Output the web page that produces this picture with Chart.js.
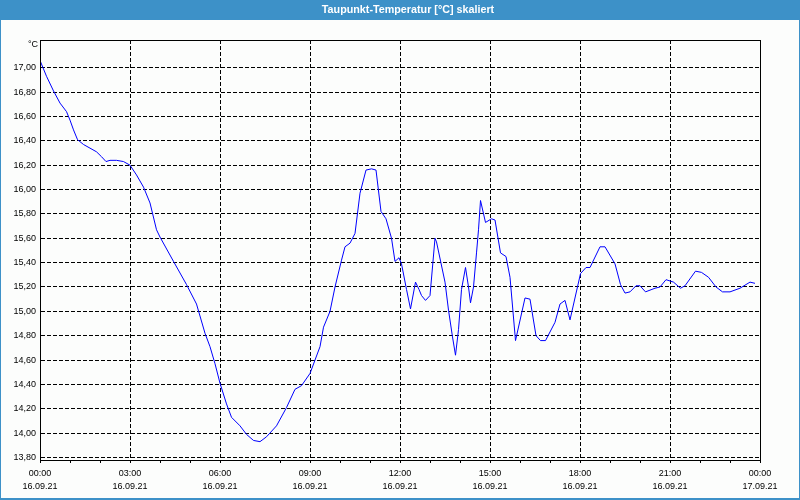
<!DOCTYPE html>
<html><head><meta charset="utf-8">
<script src="https://cdn.jsdelivr.net/npm/chart.js@4"></script>
<style>html,body{margin:0;padding:0;background:#fcfdfc;}#wrap{width:800px;height:500px;}</style>
</head><body><div id="wrap"><canvas id="c" width="800" height="500"></canvas></div>
<script>
const chartTitle = 'Taupunkt-Temperatur [°C] skaliert';
const unitLabel = '°C';

const times = [
 '00:00','00:13','00:27','00:40','00:53','01:00','01:07','01:15','01:27','01:40',
 '01:53','02:03','02:12','02:20','02:33','02:47','03:00','03:13','03:27','03:40',
 '03:53','04:00','04:27','04:53','05:13','05:30','05:40','05:50','06:00','06:13',
 '06:23','06:40','06:53','07:07','07:20','07:33','07:53','08:13','08:30','08:43',
 '09:00','09:20','09:27','09:40','09:50','10:03','10:10','10:20','10:30','10:40',
 '10:52','11:03','11:12','11:22','11:32','11:43','11:50','11:58','12:03','12:13',
 '12:21','12:31','12:38','12:43','12:51','13:00','13:10','13:13','13:30','13:37',
 '13:45','13:51','13:57','14:03','14:11','14:17','14:21','14:27','14:33','14:37',
 '14:41','14:51','15:03','15:10','15:21','15:32','15:40','15:51','16:10','16:20',
 '16:32','16:41','16:51','17:10','17:20','17:30','17:40','18:01','18:12','18:20',
 '18:40','18:50','19:10','19:21','19:30','19:40','19:52','20:00','20:11','20:30',
 '20:40','20:52','21:07','21:21','21:30','21:51','22:03','22:17','22:32','22:45',
 '23:00','23:20','23:40','23:50'
];
const dewPoint = [
 17.06,16.93,16.81,16.71,16.64,16.57,16.49,16.41,16.37,16.34,
 16.31,16.27,16.23,16.24,16.24,16.23,16.20,16.12,16.02,15.89,
 15.67,15.61,15.41,15.22,15.06,14.82,14.71,14.57,14.41,14.24,
 14.13,14.06,13.99,13.94,13.93,13.97,14.06,14.21,14.36,14.39,
 14.49,14.71,14.87,15.00,15.20,15.42,15.53,15.56,15.64,15.97,
 16.16,16.17,16.16,15.82,15.76,15.60,15.41,15.44,15.39,15.18,
 15.02,15.24,15.18,15.13,15.09,15.13,15.60,15.57,15.24,15.01,
 14.79,14.64,14.85,15.18,15.36,15.20,15.07,15.20,15.48,15.67,
 15.91,15.73,15.76,15.75,15.48,15.45,15.28,14.76,15.11,15.10,
 14.80,14.76,14.76,14.91,15.06,15.09,14.93,15.31,15.36,15.36,
 15.53,15.53,15.39,15.22,15.15,15.16,15.21,15.21,15.16,15.19,
 15.20,15.26,15.24,15.19,15.21,15.33,15.32,15.28,15.20,15.16,
 15.16,15.19,15.24,15.23
];

const tickTimes = ['00:00','03:00','06:00','09:00','12:00','15:00','18:00','21:00','00:00'];
const tickDates = ['16.09.21','16.09.21','16.09.21','16.09.21','16.09.21','16.09.21','16.09.21','16.09.21','17.09.21'];
const yTickValues = [13.8,14.0,14.2,14.4,14.6,14.8,15.0,15.2,15.4,15.6,15.8,16.0,16.2,16.4,16.6,16.8,17.0];
const hourTickValues = [0,60,120,180,240,300,360,420,480,540,600,660,720,780,840,900,960,1020,1080,1140,1200,1260,1320,1380,1440];

const toMin = s => { const p = s.split(':').map(Number); return p[0]*60 + p[1]; };
const points = times.map((t, i) => ({ x: toMin(t), y: dewPoint[i] }));

const FONT = 'Liberation Sans';

const framePlugin = {
  id: 'frame',
  afterLayout(chart) {
    if (chart.titleBlock) { chart.titleBlock.left = 16; }
  },
  beforeDraw(chart) {
    const { ctx, width, height } = chart;
    ctx.save();
    ctx.fillStyle = '#fcfdfc';
    ctx.fillRect(0, 0, width, height);
    ctx.fillStyle = '#3d91c8';
    ctx.fillRect(0, 0, width, 20);
    ctx.fillRect(0, 0, 1, height);
    ctx.fillRect(width - 1, 0, 1, height);
    ctx.fillRect(0, height - 2, width, 2);
    ctx.restore();
  },
  afterDraw(chart) {
    const { ctx, chartArea: a } = chart;
    ctx.save();
    ctx.strokeStyle = '#000';
    ctx.lineWidth = 1;
    ctx.setLineDash([]);
    ctx.strokeRect(a.left + 0.5, a.top + 0.5, a.right - a.left, a.bottom - a.top);
    ctx.fillStyle = '#000';
    ctx.font = '9px "' + FONT + '"';
    ctx.textAlign = 'right';
    ctx.textBaseline = 'middle';
    ctx.fillText(unitLabel, a.left - 2, a.top + 5);
    ctx.restore();
  }
};

new Chart(document.getElementById('c'), {
  type: 'line',
  data: { datasets: [{ data: points, borderColor: '#0000ff', borderWidth: 1, pointRadius: 0, tension: 0, fill: false }] },
  options: {
    responsive: false, animation: false, devicePixelRatio: 1,
    layout: { padding: { left: 0, right: 0, top: 0, bottom: 0 } },
    plugins: {
      legend: { display: false }, tooltip: { enabled: false },
      title: { display: true, text: chartTitle, color: '#ffffff',
        font: { family: FONT, size: 10.75, weight: 'bold', lineHeight: '14px' },
        padding: { top: 3, bottom: 23 } }
    },
    scales: {
      x: {
        type: 'linear', min: 0, max: 1440,
        afterBuildTicks: s => { s.ticks = hourTickValues.map(v => ({ value: v })); },
        afterFit: s => { s.height = 40; s.paddingLeft = 0; s.paddingRight = 40; },
        ticks: { autoSkip: false, maxRotation: 0, minRotation: 0, padding: 4, color: '#000',
          font: { family: FONT, size: 9, lineHeight: '13px' },
          callback: v => (v % 180 === 0) ? [tickTimes[v / 180], tickDates[v / 180]] : '' },
        grid: { color: c => (c.tick && c.tick.value % 180 === 0) ? '#000' : 'rgba(0,0,0,0)',
          tickColor: '#000', tickLength: 3, lineWidth: 1 },
        border: { color: '#000', width: 1, dash: [4, 2] }
      },
      y: {
        type: 'linear', min: 13.7795, max: 17.228,
        afterBuildTicks: s => { s.ticks = yTickValues.map(v => ({ value: v })); },
        afterFit: s => { s.width = 40; s.paddingTop = 0; s.paddingBottom = 0; },
        ticks: { padding: 4, color: '#000', font: { family: FONT, size: 9 },
          callback: v => Number(v).toFixed(2).replace('.', ',') },
        grid: { color: '#000', lineWidth: 1, drawTicks: false },
        border: { color: '#000', width: 1, dash: [4, 2] }
      }
    }
  },
  plugins: [framePlugin]
});
</script>
</body></html>
